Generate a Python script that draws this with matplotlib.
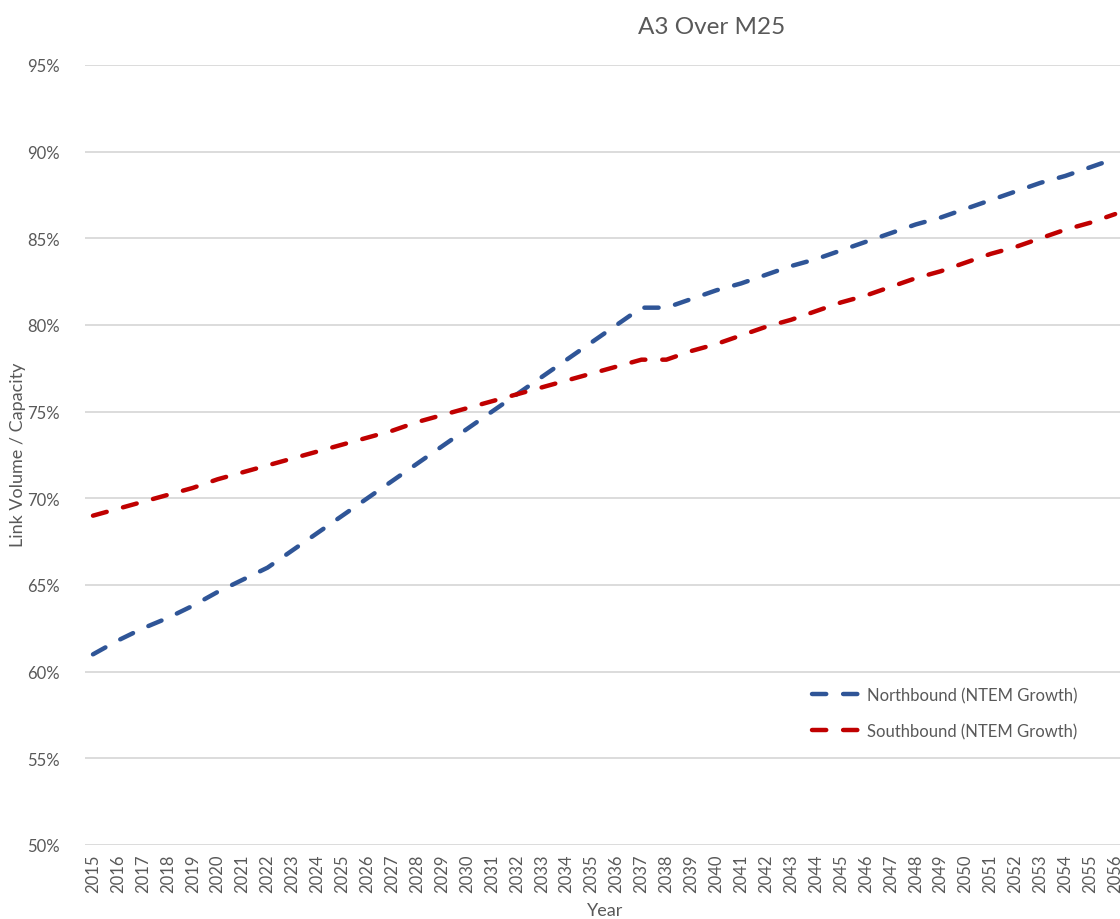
import matplotlib
matplotlib.use("Agg")
import matplotlib.pyplot as plt
from matplotlib.ticker import FuncFormatter

years = list(range(2015, 2057))
northbound = [61.0, 61.8, 62.5, 63.1, 63.8, 64.6, 65.3, 66.0, 67.0, 68.0,
              69.0, 70.0, 71.0, 72.0, 73.0, 74.0, 75.0, 76.0, 77.0, 78.0,
              79.0, 80.0, 81.0, 81.0, 81.5, 82.0, 82.4, 82.9, 83.4, 83.8,
              84.3, 84.8, 85.3, 85.8, 86.2, 86.7, 87.2, 87.7, 88.2, 88.6,
              89.1, 89.6]
southbound = [69.0, 69.4, 69.8, 70.2, 70.6, 71.1, 71.5, 71.9, 72.3, 72.7,
              73.1, 73.5, 73.9, 74.4, 74.8, 75.2, 75.6, 76.0, 76.4, 76.8,
              77.2, 77.6, 78.0, 78.0, 78.5, 78.9, 79.4, 79.9, 80.3, 80.8,
              81.3, 81.7, 82.2, 82.7, 83.1, 83.6, 84.1, 84.5, 85.0, 85.5,
              85.9, 86.4]
series_labels = ["Northbound (NTEM Growth)", "Southbound (NTEM Growth)"]
title = "A3 Over M25"
y_ticks = [50, 55, 60, 65, 70, 75, 80, 85, 90, 95]

plt.rcParams['font.family'] = ['Lato', 'DejaVu Sans']
text_col = '#595959'

fig = plt.figure(figsize=(11.2, 9.2), dpi=100)
ax = fig.add_axes([85/1120, 1-846/920, 1-85/1120, (846-66)/920])

ax.plot(years, northbound, color='#2F5597', lw=3.2, dashes=(3.2, 3.8),
        dash_capstyle='round', label=series_labels[0])
ax.plot(years, southbound, color='#C00000', lw=3.2, dashes=(3.2, 3.8),
        dash_capstyle='round', label=series_labels[1])

ax.set_ylim(50, 95)
ax.set_xlim(2015 - 8/24.93, 2015 + (1120-93)/24.93)
ax.set_yticks(y_ticks)
ax.yaxis.set_major_formatter(FuncFormatter(lambda v, p: f"{v:.0f}%"))
ax.set_xticks(years)
ax.set_xticklabels([str(y) for y in years], rotation=90)
ax.tick_params(axis='both', length=0, colors=text_col, labelsize=12)
ax.tick_params(axis='y', pad=18)
ax.tick_params(axis='x', pad=6)
ax.grid(axis='y', color='#d9d9d9', lw=1.3)
ax.set_axisbelow(True)
for s in ax.spines.values():
    s.set_visible(False)

ax.set_ylabel("Link Volume / Capacity", color=text_col, fontsize=13, va='center')
ax.yaxis.set_label_coords((18 - 85) / (1120 - 85), (846 - 455) / (846 - 66))
ax.set_xlabel("Year", color=text_col, fontsize=13, va='center')
ax.xaxis.set_label_coords((605 - 85) / (1120 - 85), -(911 - 846) / (846 - 66))
fig.text(712/1120, 1-27/920, title, ha='center', va='center', color=text_col, fontsize=17.5)

leg = ax.legend(loc='upper left', bbox_to_anchor=((797-85)/(1120-85), 1-(673-66)/(846-66)),
                frameon=False, fontsize=12, labelcolor=text_col, handlelength=3.3,
                labelspacing=1.2, handletextpad=0.0)

fig.savefig("out.png", dpi=100, facecolor='white')
